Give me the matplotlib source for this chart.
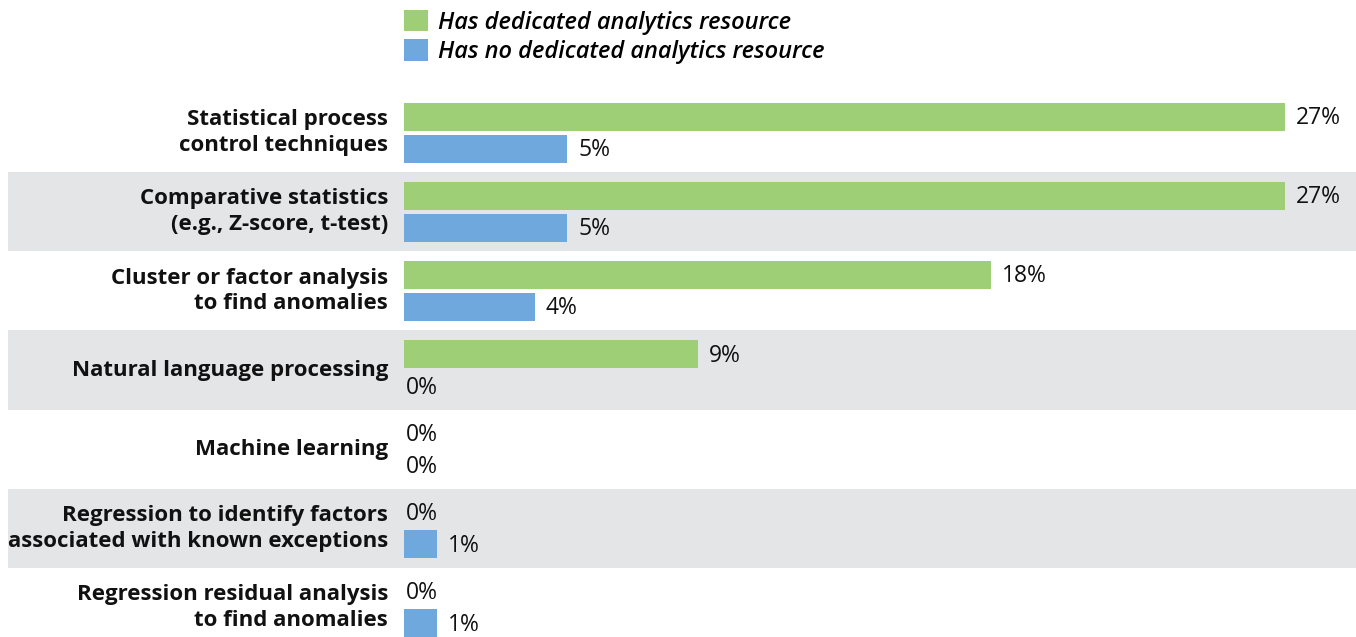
import matplotlib
matplotlib.use("Agg")
import matplotlib.pyplot as plt

# данные с картинки
categories = [
    "Statistical process\ncontrol techniques",
    "Comparative statistics\n(e.g., Z-score, t-test)",
    "Cluster or factor analysis\nto find anomalies",
    "Natural language processing",
    "Machine learning",
    "Regression to identify factors\nassociated with known exceptions",
    "Regression residual analysis\nto find anomalies",
]
has_resource = [27, 27, 18, 9, 0, 0, 0]
no_resource = [5, 5, 4, 0, 0, 1, 1]
series_names = ["Has dedicated analytics resource", "Has no dedicated analytics resource"]

green = "#9ECF76"
blue = "#6FA8DC"
band = "#E4E5E7"

W, H = 1356, 637
fig = plt.figure(figsize=(W / 100, H / 100), dpi=100)

# оси в пикселях: x от 8 до 1356, y от 93 до 647
px_per_unit = 881 / 27
x0_px = 404
left_px, right_px = 8, W
top_px, bot_px = 93, 647
ax = fig.add_axes([left_px / W, 1 - bot_px / H, (right_px - left_px) / W, (bot_px - top_px) / H])
ax.set_xlim(-(x0_px - left_px) / px_per_unit, (right_px - x0_px) / px_per_unit)
ax.set_ylim(len(categories), 0)
ax.axis("off")

row_px = (bot_px - top_px) / len(categories)
bar_h = 28 / row_px
off = 16 / row_px

# серые полосы через строку
for i in range(len(categories)):
    if i % 2 == 1:
        ax.axhspan(i, i + 1, color=band, zorder=0, lw=0)

ys = [i + 0.5 for i in range(len(categories))]
b1 = ax.barh([y - off for y in ys], has_resource, height=bar_h, color=green, zorder=2, label=series_names[0])
b2 = ax.barh([y + off for y in ys], no_resource, height=bar_h, color=blue, zorder=2, label=series_names[1])

gap = 11 / px_per_unit
for bars, vals in [(b1, has_resource), (b2, no_resource)]:
    for rect, v in zip(bars, vals):
        x = v + gap if v > 0 else 2 / px_per_unit
        ax.text(x, rect.get_y() + rect.get_height() / 2 + 1.5 / row_px, f"{v}%", va="center", ha="left",
                fontsize=16.5, family="Open Sans", color="#111111")

# подписи категорий
for y, name in zip(ys, categories):
    ax.text(-16 / px_per_unit, y, name, ha="right", va="center", fontsize=16,
            family="Open Sans", fontweight="bold", linespacing=1.28, color="#111111")

fig.legend(handles=[b1, b2], loc="upper left", bbox_to_anchor=(404 / W, 1 - 10 / H),
           frameon=False, prop={"family": "Open Sans", "style": "italic", "weight": "semibold", "size": 17},
           handlelength=1.0, handleheight=1.0, handletextpad=0.45, labelspacing=0.2,
           borderaxespad=0, borderpad=0)

fig.savefig("out.png", dpi=100)
